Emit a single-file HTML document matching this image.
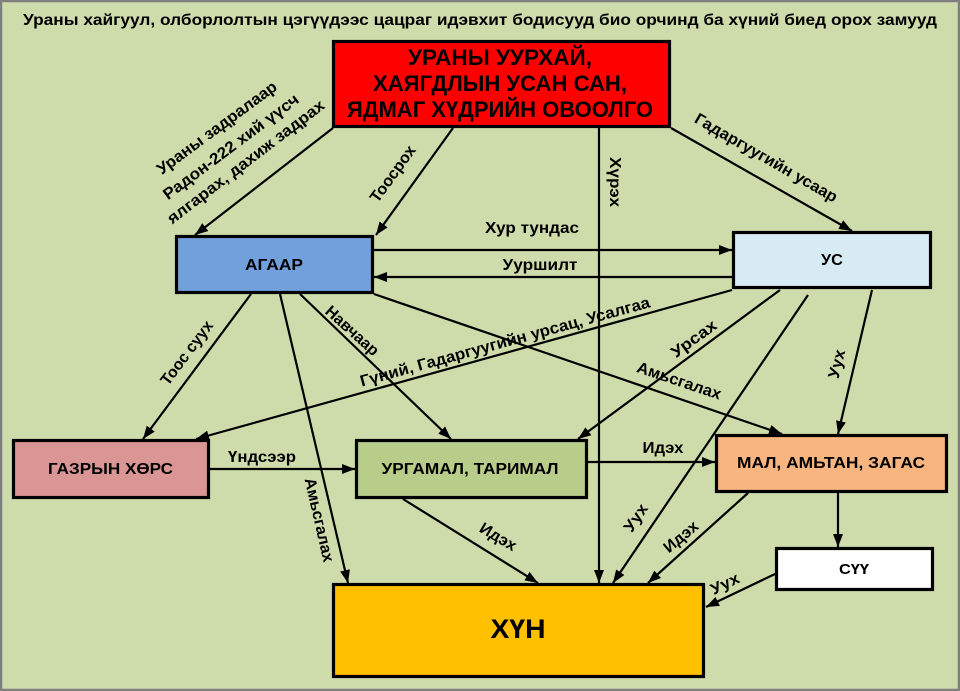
<!DOCTYPE html>
<html><head><meta charset="utf-8"><style>
html,body{margin:0;padding:0;background:#cfddae;}
svg{display:block;}
text{font-family:"Liberation Sans",Arial,sans-serif;font-weight:bold;fill:#000;}
</style></head><body>
<svg width="960" height="691" viewBox="0 0 960 691" xmlns="http://www.w3.org/2000/svg">
<defs>
<marker id="a" markerUnits="userSpaceOnUse" markerWidth="14" markerHeight="10" refX="13" refY="5" orient="auto">
<path d="M0,0 L13,5 L0,10 z" fill="#000"/>
</marker>
</defs>
<rect x="1" y="1" width="958" height="689" fill="#cedcac" stroke="#7f7f7f" stroke-width="2.5"/>

<text x="23" y="25" font-size="16" textLength="914" lengthAdjust="spacingAndGlyphs">Ураны хайгуул, олборлолтын цэгүүдээс цацраг идэвхит бодисууд био орчинд ба хүний биед орох замууд</text>

<!-- connectors -->
<g stroke="#000" stroke-width="2.2" fill="none" marker-end="url(#a)">
<line x1="333" y1="128" x2="195" y2="235"/>
<line x1="453" y1="128" x2="376" y2="235"/>
<line x1="599" y1="128" x2="599" y2="583"/>
<line x1="671" y1="128" x2="852" y2="231"/>
<line x1="374" y1="250" x2="732" y2="250"/>
<line x1="732" y1="277" x2="374" y2="277"/>
<line x1="251" y1="294" x2="143" y2="439"/>
<line x1="280" y1="294" x2="348" y2="583"/>
<line x1="300" y1="294" x2="451" y2="439"/>
<line x1="374" y1="294" x2="782" y2="434"/>
<line x1="732" y1="290" x2="196" y2="439"/>
<line x1="780" y1="290" x2="578" y2="439"/>
<line x1="808" y1="295" x2="613" y2="583"/>
<line x1="872" y1="290" x2="838" y2="434"/>
<line x1="210" y1="469" x2="355" y2="469"/>
<line x1="588" y1="462" x2="715" y2="462"/>
<line x1="403" y1="499" x2="538" y2="583"/>
<line x1="748" y1="493" x2="648" y2="583"/>
<line x1="838" y1="493" x2="838" y2="547"/>
<line x1="775" y1="574" x2="706" y2="607"/>
</g>

<!-- boxes -->
<g stroke="#000" stroke-width="3.2">
<rect x="333.5" y="41.5" width="336" height="85" fill="#ff0000"/>
<rect x="176.5" y="236.5" width="196" height="56" fill="#71a0dc"/>
<rect x="733.5" y="232.5" width="197" height="55" fill="#d6ebf2"/>
<rect x="13.5" y="440.5" width="195" height="57" fill="#da9694"/>
<rect x="356.5" y="440.5" width="230" height="57" fill="#b9cd8b"/>
<rect x="716.5" y="435.5" width="230" height="56" fill="#f8b57f"/>
<rect x="776.5" y="548.5" width="156" height="41" fill="#ffffff"/>
<rect x="333.5" y="584.5" width="370" height="92" fill="#ffc000"/>
</g>

<!-- box text -->
<text x="500" y="65" font-size="22" text-anchor="middle" textLength="184" lengthAdjust="spacingAndGlyphs">УРАНЫ УУРХАЙ,</text>
<text x="500" y="91" font-size="22" text-anchor="middle" textLength="254" lengthAdjust="spacingAndGlyphs">ХАЯГДЛЫН УСАН САН,</text>
<text x="500" y="117" font-size="22" text-anchor="middle" textLength="306" lengthAdjust="spacingAndGlyphs">ЯДМАГ ХҮДРИЙН ОВООЛГО</text>
<text x="274" y="270" font-size="16" text-anchor="middle" textLength="58" lengthAdjust="spacingAndGlyphs">АГААР</text>
<text x="832" y="265" font-size="16" text-anchor="middle" textLength="22" lengthAdjust="spacingAndGlyphs">УС</text>
<text x="110.5" y="474" font-size="16" text-anchor="middle" textLength="125" lengthAdjust="spacingAndGlyphs">ГАЗРЫН ХӨРС</text>
<text x="470" y="474" font-size="16" text-anchor="middle" textLength="177" lengthAdjust="spacingAndGlyphs">УРГАМАЛ, ТАРИМАЛ</text>
<text x="831" y="468" font-size="16" text-anchor="middle" textLength="188" lengthAdjust="spacingAndGlyphs">МАЛ, АМЬТАН, ЗАГАС</text>
<text x="854" y="574" font-size="15" text-anchor="middle" textLength="30" lengthAdjust="spacingAndGlyphs">СҮҮ</text>
<text x="518" y="638" font-size="27" text-anchor="middle" textLength="55" lengthAdjust="spacingAndGlyphs">ХҮН</text>

<!-- connector labels -->
<g font-size="16" text-anchor="middle">
<text transform="translate(217,128) rotate(-36.5)" y="5" textLength="145" lengthAdjust="spacingAndGlyphs">Ураны задралаар</text>
<text transform="translate(231,147) rotate(-36.8)" y="5" textLength="165" lengthAdjust="spacingAndGlyphs">Радон-222 хий үүсч</text>
<text transform="translate(246,162) rotate(-37.3)" y="5" textLength="193" lengthAdjust="spacingAndGlyphs">ялгарах, дахиж задрах</text>
<text transform="translate(393,174) rotate(-54)" y="5" textLength="66" lengthAdjust="spacingAndGlyphs">Тоосрох</text>
<text transform="translate(615,182) rotate(90)" y="5" textLength="50" lengthAdjust="spacingAndGlyphs">Хүрэх</text>
<text transform="translate(766,158) rotate(30)" y="5" textLength="162" lengthAdjust="spacingAndGlyphs">Гадаргуугийн усаар</text>
<text x="532" y="233" textLength="94" lengthAdjust="spacingAndGlyphs">Хур тундас</text>
<text x="540" y="270" textLength="75" lengthAdjust="spacingAndGlyphs">Ууршилт</text>
<text transform="translate(187,353) rotate(-53)" y="5" textLength="76" lengthAdjust="spacingAndGlyphs">Тоос суух</text>
<text transform="translate(319,520) rotate(77)" y="5" textLength="86" lengthAdjust="spacingAndGlyphs">Амьсгалах</text>
<text transform="translate(352,331) rotate(42)" y="5" textLength="66" lengthAdjust="spacingAndGlyphs">Навчаар</text>
<text transform="translate(505,342) rotate(-15.4)" y="5" textLength="300" lengthAdjust="spacingAndGlyphs">Гүний, Гадаргуугийн урсац, Усалгаа</text>
<text transform="translate(694,339) rotate(-36)" y="5" textLength="52" lengthAdjust="spacingAndGlyphs">Урсах</text>
<text transform="translate(679,381) rotate(18.5)" y="5" textLength="88" lengthAdjust="spacingAndGlyphs">Амьсгалах</text>
<text transform="translate(837,364) rotate(-76)" y="5" textLength="29" lengthAdjust="spacingAndGlyphs">Уух</text>
<text transform="translate(636,518) rotate(-56)" y="5" textLength="30" lengthAdjust="spacingAndGlyphs">Уух</text>
<text transform="translate(681,537) rotate(-40)" y="5" textLength="40" lengthAdjust="spacingAndGlyphs">Идэх</text>
<text transform="translate(498,537) rotate(30.6)" y="5" textLength="40" lengthAdjust="spacingAndGlyphs">Идэх</text>
<text transform="translate(725,584) rotate(-26)" y="5" textLength="30" lengthAdjust="spacingAndGlyphs">Уух</text>
<text x="262" y="462" textLength="68" lengthAdjust="spacingAndGlyphs">Үндсээр</text>
<text x="663" y="453" textLength="41" lengthAdjust="spacingAndGlyphs">Идэх</text>
</g>
</svg>
</body></html>
